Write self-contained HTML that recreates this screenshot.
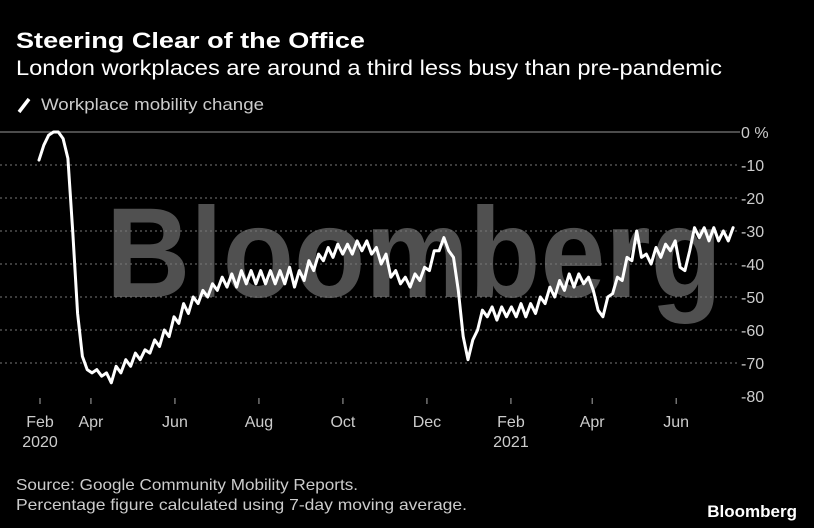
<!DOCTYPE html>
<html><head><meta charset="utf-8"><style>
body{margin:0;background:#000;width:814px;height:528px;overflow:hidden;font-family:"Liberation Sans",sans-serif;color:#fff}
</style></head><body>
<svg width="814" height="528" style="position:absolute;left:0;top:0">
<text x="16" y="48" font-size="22" font-weight="bold" fill="#fff" textLength="349" lengthAdjust="spacingAndGlyphs">Steering Clear of the Office</text>
<text x="16" y="75" font-size="21" fill="#fff" textLength="706" lengthAdjust="spacingAndGlyphs">London workplaces are around a third less busy than pre-pandemic</text>
<line x1="19" y1="112" x2="29" y2="99" stroke="#fff" stroke-width="3.5"/>
<text x="41" y="110" font-size="17" fill="#ccc" textLength="223" lengthAdjust="spacingAndGlyphs">Workplace mobility change</text>
<text x="414" y="297" font-size="128" font-weight="bold" fill="#505050" text-anchor="middle" textLength="616" lengthAdjust="spacingAndGlyphs">Bloomberg</text>
<g id="grid"></g>
<g id="xaxis"></g>
<polyline id="line" fill="none" stroke="#fff" stroke-width="3" stroke-linejoin="round" stroke-linecap="round"/>
<text x="16" y="490" font-size="16" fill="#ccc" textLength="342" lengthAdjust="spacingAndGlyphs">Source: Google Community Mobility Reports.</text>
<text x="16" y="510" font-size="16" fill="#ccc" textLength="451" lengthAdjust="spacingAndGlyphs">Percentage figure calculated using 7-day moving average.</text>
<text x="797" y="517" font-size="17" font-weight="bold" fill="#fff" text-anchor="end">Bloomberg</text>
</svg>
<script>
const yTicks=[0,-10,-20,-30,-40,-50,-60,-70,-80];
const yTickLabels=["0 %","-10","-20","-30","-40","-50","-60","-70","-80"];
const xTickDays=[0,37,98,159,220,281,342,401,462];
const xTickLabels=["Feb","Apr","Jun","Aug","Oct","Dec","Feb","Apr","Jun"];
const xYearLabels=["2020","","","","","","2021","",""];
const values=[-8.5,-4,-1,0,0,-2,-8,-30,-55,-68,-72,-73,-72,-74,-73,-76,-71,-73,-69,-71,-67,-69,-66,-67,-63,-65,-60,-62,-56,-58,-52,-55,-50,-52,-48,-50,-46,-48,-44,-47,-43,-47,-42,-46,-42,-46,-42,-46,-42,-46,-42,-46,-41,-47,-42,-45,-39,-42,-37,-39,-35,-38,-34,-37,-34,-37,-33,-36,-33,-37,-35,-40,-37,-44,-42,-46,-44,-47,-43,-45,-41,-42,-36,-36,-32,-36,-38,-48,-62,-69,-63,-60,-54,-56,-53,-57,-53,-56,-53,-56,-52,-56,-52,-55,-50,-52,-47,-50,-45,-48,-43,-47,-43,-46,-44,-48,-54,-56,-50,-49,-44,-45,-38,-39,-30,-38,-37,-40,-35,-38,-34,-36,-33,-41,-42,-36,-29,-32,-29,-33,-29,-33,-30,-33,-29];
const NS="http://www.w3.org/2000/svg";
const sy=v=>132-v*3.3;
const sxDay=d=>40+d*1.377;
const sxIdx=i=>39+i*4.82;
const grid=document.getElementById('grid');
yTicks.forEach((t,k)=>{
  const y=sy(t);
  if(k<yTicks.length-1){
    const l=document.createElementNS(NS,'line');
    l.setAttribute('x1',0);l.setAttribute('x2',740);l.setAttribute('y1',y);l.setAttribute('y2',y);
    l.setAttribute('stroke',t===0?'#999':'#777');l.setAttribute('stroke-width',1);
    if(t!==0)l.setAttribute('stroke-dasharray','2,3');
    
    
    grid.appendChild(l);
  }
  const tx=document.createElementNS(NS,'text');
  tx.setAttribute('x',741);tx.setAttribute('y',y+6);tx.setAttribute('font-size',16);tx.setAttribute('fill','#ccc');
  tx.textContent=yTickLabels[k];
  
  
  grid.appendChild(tx);
});
const xa=document.getElementById('xaxis');
xTickDays.forEach((d,k)=>{
  const x=sxDay(d);
  const l=document.createElementNS(NS,'line');
  l.setAttribute('x1',x);l.setAttribute('x2',x);l.setAttribute('y1',398);l.setAttribute('y2',404);
  l.setAttribute('stroke','#aaa');
  
  
  xa.appendChild(l);
  const t=document.createElementNS(NS,'text');
  t.setAttribute('x',x);t.setAttribute('y',427);t.setAttribute('font-size',16);t.setAttribute('fill','#ccc');t.setAttribute('text-anchor','middle');
  t.textContent=xTickLabels[k];
  
  
  xa.appendChild(t);
  if(xYearLabels[k]){
    const y=document.createElementNS(NS,'text');
    y.setAttribute('x',x);y.setAttribute('y',447);y.setAttribute('font-size',16);y.setAttribute('fill','#ccc');y.setAttribute('text-anchor','middle');
    y.textContent=xYearLabels[k];
    
    
    xa.appendChild(y);
  }
});
const line=document.getElementById('line');
line.setAttribute('points',values.map((v,i)=>sxIdx(i).toFixed(1)+','+sy(v).toFixed(1)).join(' '));


</script>
</body></html>
